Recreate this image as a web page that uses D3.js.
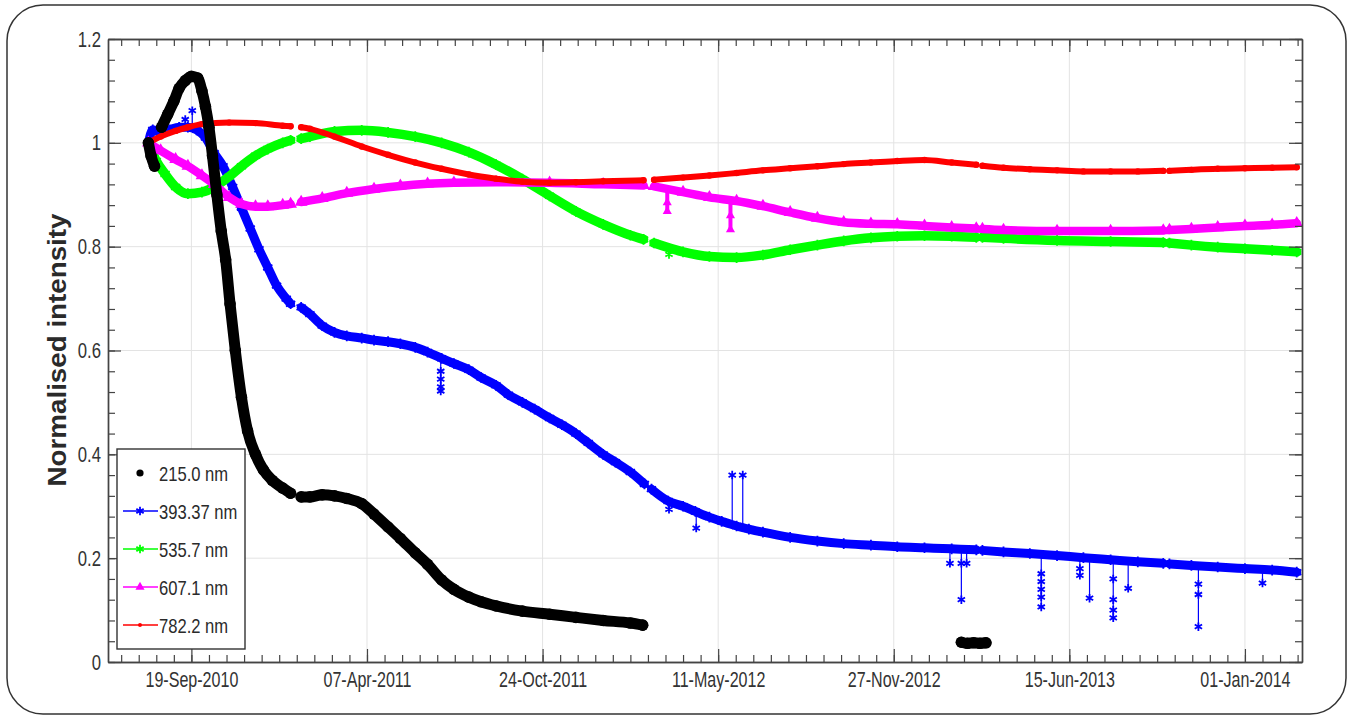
<!DOCTYPE html>
<html>
<head>
<meta charset="utf-8">
<script src="https://cdn.jsdelivr.net/npm/d3@7"></script>
<style>
  html, body { margin: 0; padding: 0; background: #fff; }
  svg { display: block; }
</style>
</head>
<body>
<div id="display"></div>
<script>
const W = 1351;
const H = 717;
const FONT = '"Liberation Sans", Arial, sans-serif';

const xStart = "2010-06-16";
const xEnd = "2014-03-07";
const xTickLabels = ["19-Sep-2010", "07-Apr-2011", "24-Oct-2011", "11-May-2012", "27-Nov-2012", "15-Jun-2013", "01-Jan-2014"];
const yTicks = [0, 0.2, 0.4, 0.6, 0.8, 1, 1.2];

const names = ["215.0 nm", "393.37 nm", "535.7 nm", "607.1 nm", "782.2 nm"];
const colours = ["#000000", "#0000ff", "#00ff00", "#ff00ff", "#ff0000"];

// [date, normalised intensity], null = gap in the record
const nm215 = [
    ["2010-08-01", 1.00], ["2010-08-04", 0.975], ["2010-08-08", 0.955], ["2010-08-11", null],
    ["2010-08-16", 1.03], ["2010-08-23", 1.055], ["2010-08-30", 1.08], ["2010-09-05", 1.105],
    ["2010-09-12", 1.12], ["2010-09-19", 1.128], ["2010-09-26", 1.125], ["2010-10-01", 1.10],
    ["2010-10-05", 1.07], ["2010-10-09", 1.03], ["2010-10-13", 0.975], ["2010-10-18", 0.90],
    ["2010-10-23", 0.83], ["2010-10-28", 0.775], ["2010-11-02", 0.69], ["2010-11-08", 0.60],
    ["2010-11-15", 0.51], ["2010-11-22", 0.445], ["2010-12-01", 0.40], ["2010-12-10", 0.37],
    ["2010-12-20", 0.35], ["2011-01-01", 0.335], ["2011-01-10", 0.325], ["2011-01-16", null],
    ["2011-01-22", 0.318], ["2011-02-01", 0.318], ["2011-02-15", 0.322], ["2011-03-01", 0.32],
    ["2011-03-15", 0.315], ["2011-04-01", 0.305], ["2011-04-15", 0.285], ["2011-05-01", 0.26],
    ["2011-05-15", 0.238], ["2011-06-01", 0.21], ["2011-06-15", 0.188], ["2011-07-01", 0.158],
    ["2011-07-15", 0.14], ["2011-08-01", 0.125], ["2011-08-15", 0.116], ["2011-09-01", 0.108],
    ["2011-10-01", 0.098], ["2011-11-01", 0.092], ["2011-12-01", 0.086], ["2012-01-01", 0.08],
    ["2012-02-01", 0.075], ["2012-02-15", 0.071], ["2012-02-20", null],
    ["2013-02-12", 0.038], ["2013-02-19", 0.036], ["2013-02-26", 0.037], ["2013-03-05", 0.036],
    ["2013-03-12", 0.037]
];

const nm393 = [
    ["2010-08-01", 1.00], ["2010-08-06", 1.025], ["2010-08-15", 1.02], ["2010-08-25", 1.025],
    ["2010-09-05", 1.03], ["2010-09-15", 1.03], ["2010-09-25", 1.025], ["2010-10-05", 1.01],
    ["2010-10-15", 0.98], ["2010-10-25", 0.955], ["2010-11-05", 0.915], ["2010-11-15", 0.875],
    ["2010-11-25", 0.835], ["2010-12-05", 0.795], ["2010-12-15", 0.76], ["2010-12-25", 0.725],
    ["2011-01-05", 0.70], ["2011-01-10", 0.69], ["2011-01-16", null], ["2011-01-22", 0.683],
    ["2011-02-01", 0.67], ["2011-02-15", 0.648], ["2011-03-01", 0.635], ["2011-03-15", 0.628],
    ["2011-04-01", 0.624], ["2011-04-15", 0.62], ["2011-05-01", 0.617], ["2011-05-15", 0.613],
    ["2011-06-01", 0.606], ["2011-06-15", 0.597], ["2011-07-01", 0.585], ["2011-07-15", 0.575],
    ["2011-08-01", 0.563], ["2011-08-15", 0.548], ["2011-09-01", 0.533], ["2011-09-15", 0.515],
    ["2011-10-01", 0.50], ["2011-10-15", 0.487], ["2011-11-01", 0.47], ["2011-11-15", 0.457],
    ["2011-12-01", 0.44], ["2011-12-15", 0.422], ["2012-01-01", 0.40], ["2012-01-15", 0.385],
    ["2012-02-01", 0.366], ["2012-02-17", 0.343], ["2012-02-21", null], ["2012-02-25", 0.333],
    ["2012-03-15", 0.31], ["2012-04-01", 0.30], ["2012-04-15", 0.29], ["2012-05-01", 0.279],
    ["2012-05-15", 0.271], ["2012-06-01", 0.262], ["2012-06-15", 0.256], ["2012-07-01", 0.25],
    ["2012-08-01", 0.24], ["2012-09-01", 0.233], ["2012-10-01", 0.228], ["2012-11-01", 0.225],
    ["2012-12-01", 0.222], ["2013-01-01", 0.22], ["2013-02-01", 0.218], ["2013-03-01", 0.216],
    ["2013-03-04", null], ["2013-03-08", 0.215], ["2013-04-01", 0.212], ["2013-05-01", 0.209],
    ["2013-06-01", 0.205], ["2013-07-01", 0.201], ["2013-08-01", 0.197], ["2013-09-01", 0.193],
    ["2013-09-30", 0.19], ["2013-10-03", null], ["2013-10-07", 0.189], ["2013-11-01", 0.186],
    ["2013-12-01", 0.183], ["2014-01-01", 0.18], ["2014-02-01", 0.177], ["2014-03-01", 0.173]
];

const nm535 = [
    ["2010-08-01", 1.00], ["2010-08-10", 0.965], ["2010-08-20", 0.94], ["2010-09-01", 0.915],
    ["2010-09-15", 0.902], ["2010-10-01", 0.905], ["2010-10-15", 0.915], ["2010-11-01", 0.935],
    ["2010-11-15", 0.955], ["2010-12-01", 0.975], ["2010-12-15", 0.988], ["2011-01-01", 1.0],
    ["2011-01-10", 1.005], ["2011-01-16", null], ["2011-01-22", 1.008], ["2011-02-01", 1.012],
    ["2011-03-01", 1.022], ["2011-04-01", 1.024], ["2011-05-01", 1.02], ["2011-06-01", 1.012],
    ["2011-07-01", 1.0], ["2011-08-01", 0.982], ["2011-09-01", 0.958], ["2011-10-01", 0.93],
    ["2011-11-01", 0.898], ["2011-12-01", 0.868], ["2012-01-01", 0.843], ["2012-02-01", 0.822],
    ["2012-02-16", 0.814], ["2012-02-22", null], ["2012-02-28", 0.807], ["2012-04-01", 0.79],
    ["2012-05-01", 0.781], ["2012-06-01", 0.779], ["2012-07-01", 0.784], ["2012-08-01", 0.794],
    ["2012-09-01", 0.803], ["2012-10-01", 0.811], ["2012-11-01", 0.817], ["2012-12-01", 0.82],
    ["2013-01-01", 0.821], ["2013-02-01", 0.82], ["2013-03-01", 0.818], ["2013-03-04", null],
    ["2013-03-08", 0.818], ["2013-04-01", 0.816], ["2013-06-01", 0.812], ["2013-08-01", 0.81],
    ["2013-09-30", 0.808], ["2013-10-03", null], ["2013-10-07", 0.807], ["2013-11-01", 0.803],
    ["2013-12-01", 0.799], ["2014-01-01", 0.796], ["2014-02-01", 0.793], ["2014-03-01", 0.79]
];

const nm607 = [
    ["2010-08-01", 1.00], ["2010-08-15", 0.985], ["2010-09-01", 0.968], ["2010-09-15", 0.955],
    ["2010-10-01", 0.937], ["2010-10-15", 0.92], ["2010-11-01", 0.895], ["2010-11-15", 0.882],
    ["2010-12-01", 0.877], ["2010-12-15", 0.877], ["2011-01-01", 0.88], ["2011-01-10", 0.882],
    ["2011-01-16", null], ["2011-01-22", 0.886], ["2011-02-15", 0.893], ["2011-03-15", 0.903],
    ["2011-04-15", 0.911], ["2011-05-15", 0.917], ["2011-06-15", 0.921], ["2011-07-15", 0.923],
    ["2011-09-01", 0.924], ["2011-11-01", 0.923], ["2012-01-01", 0.92], ["2012-02-16", 0.918],
    ["2012-02-22", null], ["2012-02-28", 0.916], ["2012-04-01", 0.905], ["2012-05-01", 0.895],
    ["2012-06-01", 0.888], ["2012-07-01", 0.878], ["2012-08-01", 0.866], ["2012-09-01", 0.855],
    ["2012-10-01", 0.847], ["2012-11-01", 0.844], ["2012-12-01", 0.843], ["2013-01-01", 0.84],
    ["2013-02-01", 0.837], ["2013-03-01", 0.835], ["2013-03-04", null], ["2013-03-08", 0.834],
    ["2013-04-01", 0.832], ["2013-06-01", 0.83], ["2013-08-01", 0.83], ["2013-09-30", 0.831],
    ["2013-10-03", null], ["2013-10-07", 0.832], ["2013-11-01", 0.834], ["2013-12-01", 0.837],
    ["2014-01-01", 0.84], ["2014-02-01", 0.842], ["2014-03-01", 0.845]
];

const nm782 = [
    ["2010-08-01", 1.00], ["2010-08-15", 1.012], ["2010-09-01", 1.023], ["2010-09-15", 1.03],
    ["2010-10-01", 1.036], ["2010-11-01", 1.039], ["2010-12-01", 1.038], ["2011-01-01", 1.033],
    ["2011-01-10", 1.032], ["2011-01-16", null], ["2011-01-22", 1.03], ["2011-02-01", 1.027],
    ["2011-03-01", 1.012], ["2011-04-01", 0.993], ["2011-05-01", 0.977], ["2011-06-01", 0.962],
    ["2011-07-01", 0.95], ["2011-08-01", 0.939], ["2011-09-01", 0.931], ["2011-10-01", 0.925],
    ["2011-11-01", 0.923], ["2011-12-01", 0.924], ["2012-01-01", 0.926], ["2012-02-16", 0.928],
    ["2012-02-22", null], ["2012-02-28", 0.929], ["2012-04-01", 0.933], ["2012-05-01", 0.937],
    ["2012-06-01", 0.942], ["2012-07-01", 0.947], ["2012-08-01", 0.951], ["2012-09-01", 0.955],
    ["2012-10-01", 0.959], ["2012-11-01", 0.962], ["2012-12-01", 0.965], ["2013-01-01", 0.967],
    ["2013-02-01", 0.962], ["2013-03-01", 0.958], ["2013-03-04", null], ["2013-03-08", 0.956],
    ["2013-04-01", 0.952], ["2013-05-01", 0.949], ["2013-06-01", 0.947], ["2013-07-01", 0.945],
    ["2013-08-01", 0.945], ["2013-09-01", 0.945], ["2013-09-30", 0.946], ["2013-10-03", null],
    ["2013-10-07", 0.946], ["2013-11-01", 0.948], ["2013-12-01", 0.95], ["2014-01-01", 0.951],
    ["2014-02-01", 0.952], ["2014-03-01", 0.953]
];

// outlying samples: [date, value on the curve, [outlier values]]
const spikes393 = [
    ["2010-09-12", 1.03, [1.045]], ["2010-09-20", 1.03, [1.062]],
    ["2011-06-30", 0.586, [0.56, 0.545, 0.53, 0.522]],
    ["2012-03-16", 0.31, [0.294]], ["2012-04-16", 0.29, [0.258]],
    ["2012-05-27", 0.265, [0.36]], ["2012-06-08", 0.259, [0.36]],
    ["2013-01-30", 0.218, [0.19]], ["2013-02-12", 0.218, [0.19, 0.12]], ["2013-02-18", 0.218, [0.19]],
    ["2013-05-14", 0.208, [0.17, 0.155, 0.14, 0.125, 0.106]],
    ["2013-06-27", 0.202, [0.18, 0.167]], ["2013-07-08", 0.2, [0.123]],
    ["2013-08-04", 0.197, [0.16, 0.12, 0.1, 0.085]], ["2013-08-21", 0.196, [0.142]],
    ["2013-11-09", 0.186, [0.15, 0.13, 0.068]], ["2014-01-21", 0.179, [0.152]]
];
const spikes535 = [["2012-03-16", 0.8, [0.785]]];
const spikes607 = [["2012-03-14", 0.912, [0.885, 0.868]], ["2012-05-25", 0.89, [0.86, 0.833]]];

const parseDay = d3.timeParse("%Y-%m-%d");
const parseTick = d3.timeParse("%d-%b-%Y");
const fmtTick = d3.timeFormat("%d-%b-%Y");

const plotLeft = 108, plotRight = 1302, plotTop = 39, plotBottom = 662;
const x = d3.scaleTime().domain([parseDay(xStart), parseDay(xEnd)]).range([plotLeft, plotRight]);
const y = d3.scaleLinear().domain([0, 1.2]).range([plotBottom, plotTop]);

const majorDates = xTickLabels.map((t) => parseTick(t));
const minorDates = d3.timeDay.range(x.domain()[0], x.domain()[1])
    .filter((d) => ((d3.timeDay.count(majorDates[0], d) % 20) + 20) % 20 === 0);
const minorY = d3.range(0, 31).map((i) => i * 0.04);

// squeeze text horizontally, the source figure is condensed
const squeeze = (sel, k) => {
    sel.each(function () {
        const n = this.getComputedTextLength();
        this.setAttribute("textLength", n * k);
        this.setAttribute("lengthAdjust", "spacingAndGlyphs");
    });
};

const svg = d3.select("#display").append("svg")
    .attr("width", W)
    .attr("height", H);

svg.append("rect")
    .attr("x", 7).attr("y", 5)
    .attr("width", 1339).attr("height", 709)
    .attr("rx", 36).attr("ry", 36)
    .style("fill", "#fff")
    .style("stroke", "#333")
    .style("stroke-width", 1.5);

// grid
const grid = svg.append("g").style("stroke", "#e3e3e3").style("stroke-width", 1);
grid.selectAll(".gx").data(majorDates).join("line")
    .attr("x1", (d) => x(d)).attr("x2", (d) => x(d))
    .attr("y1", plotTop).attr("y2", plotBottom);
grid.selectAll(".gy").data(yTicks.slice(1, -1)).join("line")
    .attr("x1", plotLeft).attr("x2", plotRight)
    .attr("y1", (d) => y(d)).attr("y2", (d) => y(d));

svg.append("defs").append("clipPath").attr("id", "plot-clip")
    .append("rect")
    .attr("x", plotLeft).attr("y", plotTop)
    .attr("width", plotRight - plotLeft).attr("height", plotBottom - plotTop);

const plot = svg.append("g").attr("clip-path", "url(#plot-clip)");

const line = d3.line()
    .defined((d) => d[1] !== null)
    .x((d) => x(parseDay(d[0])))
    .y((d) => y(d[1]))
    .curve(d3.curveMonotoneX);

const markerPath = (type, size) => d3.symbol().type(type).size(size)();

const series = [
    { data: nm393, colour: colours[1], width: 9, marker: "star", spikes: spikes393 },
    { data: nm535, colour: colours[2], width: 9.5, marker: "star", spikes: spikes535 },
    { data: nm607, colour: colours[3], width: 8.5, marker: "tri", spikes: spikes607 },
    { data: nm782, colour: colours[4], width: 6, marker: "dot", spikes: [] },
    { data: nm215, colour: colours[0], width: 11, marker: "disc", spikes: [] }
];

const drawMarker = (g, kind, colour, px, py, big) => {
    if (kind === "disc") {
        g.append("circle").attr("cx", px).attr("cy", py).attr("r", big ? 5.8 : 3.6).style("fill", colour);
    } else if (kind === "dot") {
        g.append("circle").attr("cx", px).attr("cy", py).attr("r", big ? 3.2 : 2).style("fill", colour);
    } else if (kind === "tri") {
        g.append("path").attr("transform", `translate(${px},${py})`)
            .attr("d", markerPath(d3.symbolTriangle, big ? 70 : 36)).style("fill", colour);
    } else {
        g.append("path").attr("transform", `translate(${px},${py})`)
            .attr("d", markerPath(d3.symbolAsterisk, big ? 80 : 50))
            .style("fill", "none").style("stroke", colour).style("stroke-width", 1.8);
    }
};

series.forEach((s) => {
    const g = plot.append("g");
    g.append("path")
        .datum(s.data)
        .attr("d", line)
        .style("fill", "none")
        .style("stroke", s.colour)
        .style("stroke-width", s.width)
        .style("stroke-linecap", "round")
        .style("stroke-linejoin", "round");
    s.data.filter((d) => d[1] !== null).forEach((d) => {
        drawMarker(g, s.marker, s.colour, x(parseDay(d[0])), y(d[1]), true);
    });
    s.spikes.forEach((d) => {
        const px = x(parseDay(d[0]));
        const far = d[2][d[2].length - 1];
        g.append("line")
            .attr("x1", px).attr("x2", px)
            .attr("y1", y(d[1])).attr("y2", y(far))
            .style("stroke", s.colour)
            .style("stroke-width", s.marker === "tri" ? 4 : 1.2);
        d[2].forEach((v) => drawMarker(g, s.marker, s.colour, px, y(v), false));
    });
});

// axes, ticks point inwards
const styleAxis = (g) => {
    g.select(".domain").style("stroke", "#444").style("stroke-width", 1.4);
    g.selectAll(".tick line").style("stroke", "#444").style("stroke-width", 1.2);
    g.selectAll("text")
        .style("font-family", FONT)
        .style("font-size", "22px")
        .style("fill", "#333");
};

const xAxisGroup = svg.append("g").attr("transform", `translate(0,${plotBottom})`)
    .call(d3.axisBottom(x).tickValues(majorDates).tickFormat(fmtTick)
        .tickSizeInner(-13).tickSizeOuter(0).tickPadding(9))
    .call(styleAxis);
squeeze(xAxisGroup.selectAll("text"), 0.73);
svg.append("g").attr("transform", `translate(0,${plotBottom})`)
    .call(d3.axisBottom(x).tickValues(minorDates).tickFormat("").tickSizeInner(-7).tickSizeOuter(0))
    .call(styleAxis);

svg.append("g").attr("transform", `translate(0,${plotTop})`)
    .call(d3.axisTop(x).tickValues(majorDates).tickFormat("").tickSizeInner(-13).tickSizeOuter(0))
    .call(styleAxis);
svg.append("g").attr("transform", `translate(0,${plotTop})`)
    .call(d3.axisTop(x).tickValues(minorDates).tickFormat("").tickSizeInner(-7).tickSizeOuter(0))
    .call(styleAxis);

const yAxisGroup = svg.append("g").attr("transform", `translate(${plotLeft},0)`)
    .call(d3.axisLeft(y).tickValues(yTicks).tickFormat(d3.format("~g"))
        .tickSizeInner(-13).tickSizeOuter(0).tickPadding(7))
    .call(styleAxis);
squeeze(yAxisGroup.selectAll("text"), 0.76);
svg.append("g").attr("transform", `translate(${plotLeft},0)`)
    .call(d3.axisLeft(y).tickValues(minorY).tickFormat("").tickSizeInner(-7).tickSizeOuter(0))
    .call(styleAxis);

svg.append("g").attr("transform", `translate(${plotRight},0)`)
    .call(d3.axisRight(y).tickValues(yTicks).tickFormat("").tickSizeInner(-13).tickSizeOuter(0))
    .call(styleAxis);
svg.append("g").attr("transform", `translate(${plotRight},0)`)
    .call(d3.axisRight(y).tickValues(minorY).tickFormat("").tickSizeInner(-7).tickSizeOuter(0))
    .call(styleAxis);

svg.append("text")
    .attr("transform", "translate(57,350) rotate(-90)")
    .attr("text-anchor", "middle")
    .attr("dy", "0.36em")
    .attr("textLength", 273)
    .attr("lengthAdjust", "spacingAndGlyphs")
    .style("font-family", FONT)
    .style("font-size", "26px")
    .style("font-weight", "bold")
    .style("fill", "#2a2a2a")
    .text("Normalised intensity");

// legend
const legend = svg.append("g");
legend.append("rect")
    .attr("x", 117).attr("y", 449)
    .attr("width", 128).attr("height", 200)
    .style("fill", "#fff")
    .style("stroke", "#333")
    .style("stroke-width", 1.4);

const legendMarkers = ["disc", "star", "star", "tri", "dot"];
names.forEach((name, i) => {
    const ly = 473 + i * 38;
    if (i > 0) {
        legend.append("line")
            .attr("x1", 123).attr("x2", 158)
            .attr("y1", ly).attr("y2", ly)
            .style("stroke", colours[i])
            .style("stroke-width", 1.3);
    }
    drawMarker(legend, legendMarkers[i], colours[i], 140, ly, false);
    legend.append("text")
        .attr("x", 159)
        .attr("y", ly)
        .attr("dy", "0.36em")
        .style("font-family", FONT)
        .style("font-size", "21px")
        .style("fill", "#2a2a2a")
        .text(name);
});
squeeze(legend.selectAll("text"), 0.79);
</script>
</body>
</html>
